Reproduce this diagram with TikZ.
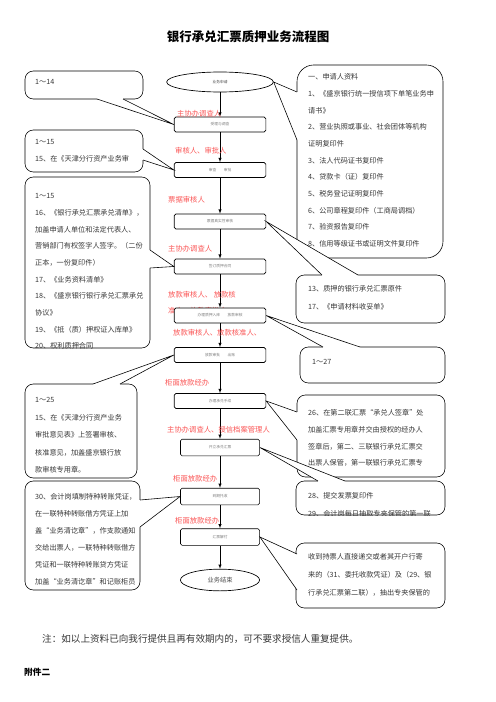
\documentclass[tikz,border=0pt]{standalone}
\usepackage{fontspec}
\setmainfont{Noto Sans CJK SC}
\usetikzlibrary{shapes.geometric}

\definecolor{rolered}{RGB}{250,85,85}
\definecolor{inkgray}{RGB}{55,55,55}

\begin{document}
\begin{tikzpicture}[x=1.2pt,y=-1.2pt]
\tikzstyle{stepbox}=[rectangle,draw,rounded corners=2pt,fill=white,line width=0.8pt,minimum width=110pt,minimum height=18pt,inner sep=0pt,font=\fontsize{4.5}{5}\selectfont,text=gray]
\tikzstyle{stepsmall}=[stepbox,minimum width=95pt,minimum height=20pt]
\tikzstyle{endpoint}=[ellipse,draw,fill=white,line width=0.8pt,inner sep=0pt,text=gray!60!black]
\tikzstyle{role}=[anchor=west,inner sep=0pt,text=rolered,font=\fontsize{8.8}{10}\selectfont]
\tikzstyle{bubble}=[draw,fill=white,rounded corners=10pt,line width=0.7pt]
\tikzstyle{memo}=[anchor=north west,align=left,inner sep=0pt,text=inkgray,font=\fontsize{8.6}{20}\selectfont]
\tikzstyle{flow}=[draw,-latex,line width=0.8pt]

\useasboundingbox (0,0) rectangle (496,702);

\node[font=\bfseries\fontsize{15}{15}\selectfont] (title) at (248,37) {银行承兑汇票质押业务流程图};

% hidden part of a role label, under b5
\node[role] (r5b) at (168,311) {准人、放款审批人};

% main column
\node[endpoint,minimum width=128pt,minimum height=24pt,font=\fontsize{4.5}{5}\selectfont] (start) at (220,82) {业务申请};
\node[stepbox] (b1) at (220,124.5) {受理与调查};
\node[stepbox] (b2) at (220,170) {审查　　审批};
\node[stepbox] (b3) at (220,221.5) {票据真实性审核};
\node[stepbox] (b4) at (220,266.5) {签订质押合同};
\node[stepbox] (b5) at (220,315.5) {办理质押入库　　放款审核};
\node[stepbox] (b6) at (220,355) {放款审批　　出账};
\node[stepbox] (b7) at (220,401) {办理承兑手续};
\node[stepsmall] (b8) at (220,447.5) {开立承兑汇票};
\node[stepsmall] (b9) at (220,496.5) {到期托收};
\node[stepsmall] (b10) at (220,537) {汇票解付};
\node[endpoint,minimum width=95pt,minimum height=26pt,font=\fontsize{7.5}{8}\selectfont] (finish) at (220,580) {业务结束};

\foreach \a/\b in {start/b1,b1/b2,b2/b3,b3/b4,b4/b5,b5/b6,b6/b7,b7/b8,b8/b9,b9/b10,b10/finish}
  \draw[flow] (\a) -- (\b);

% who does each step
\node[role] (r1) at (177,114) {主协办调查人};
\node[role] (r2) at (175,151) {审核人、审批人};
\node[role] (r3) at (168,200) {票据审核人};
\node[role] (r4) at (168,249) {主协办调查人};
\node[role] (r5) at (168,295) {放款审核人、\ 放款核};
\node[role] (r6) at (173,333) {放款审核人、放款核准人、};
\node[role] (r7) at (165,383) {柜面放款经办};
\node[role] (r8) at (167,430) {主协办调查人、授信档案管理人};
\node[role] (r9) at (173,479) {柜面放款经办};
\node[role] (r10) at (175,521) {柜面放款经办};

% left callouts
\draw[bubble] (25,71) rectangle (143,99);
\fill[white] (97,99) -- (b1.west) -- (123,99) -- (123,97) -- (97,97) -- cycle;
\draw[line width=0.7pt] (97,99) -- (b1.west) -- (123,99);
\node[memo] (m1) at (35,79.5) {1～14};

\draw[bubble] (25,130) rectangle (143,172);
\fill[white] (143,149) -- (b2.west) -- (143,160) -- (141,160) -- (141,149) -- cycle;
\draw[line width=0.7pt] (143,149) -- (b2.west) -- (143,160);
\node[memo] (m2) at (35,139.5) {1～15\\15、在《天津分行资产业务审};

\draw[bubble] (25,177) rectangle (150,348);
\fill[white] (150,250) -- (b4.west) -- (150,268) -- (148,268) -- (148,250) -- cycle;
\draw[line width=0.7pt] (150,250) -- (b4.west) -- (150,268);
\begin{scope}
\clip[rounded corners=10pt] (25,177) rectangle (150,348);
\node[memo] (m3) at (35,193.5) {1～15\\16、《银行承兑汇票承兑清单》，\\加盖申请人单位和法定代表人、\\营销部门有权签字人签字。（二份\\正本，一份复印件）\\17、《业务资料清单》\\18、《盛京银行银行承兑汇票承兑\\协议》\\19、《抵（质）押权证入库单》\\20、权利质押合同};
\end{scope}

\draw[bubble] (25,384) rectangle (137,478);
\fill[white] (93,384) -- (b6.west) -- (120,384) -- (120,386) -- (93,386) -- cycle;
\draw[line width=0.7pt] (93,384) -- (b6.west) -- (120,384);
\node[memo,font=\fontsize{8.6}{21}\selectfont] (m4) at (35,397.5) {1～25\\15、在《天津分行资产业务\\审批意见表》上签署审核、\\核准意见，加盖盛京银行放\\款审核专用章。};

\draw[bubble] (25,481) rectangle (140,590);
\fill[white] (140,500) -- (b9.west) -- (140,527) -- (138,527) -- (138,500) -- cycle;
\draw[line width=0.7pt] (140,500) -- (b9.west) -- (140,527);
\begin{scope}
\clip[rounded corners=10pt] (25,481) rectangle (140,590);
\node[memo,font=\fontsize{8.6}{20.4}\selectfont] (m5) at (35,493.5) {30、会计岗填制特种转账凭证，\\在一联特种转账借方凭证上加\\盖“业务清讫章”，作支款通知\\交给出票人，一联特种转账借方\\凭证和一联特种转账贷方凭证\\加盖“业务清讫章”和记账柜员};
\end{scope}

% right callouts
\draw[bubble,rounded corners=20pt] (297,65) rectangle (443,258);
\fill[white] (297,92) -- (start.east) -- (297,140) -- (299,140) -- (299,92) -- cycle;
\draw[line width=0.7pt] (297,92) -- (start.east) -- (297,140);
\node[memo] (n1) at (308,73.5) {一、申请人资料\\1、《盛京银行统一授信项下单笔业务申\\请书》\\2、营业执照或事业、社会团体等机构\\证明复印件\\3、法人代码证书复印件\\4、贷款卡（证）复印件\\5、税务登记证明复印件\\6、公司章程复印件（工商局调档）\\7、验资报告复印件\\8、信用等级证书或证明文件复印件};

\draw[bubble] (296,275) rectangle (445,323);
\fill[white] (322,275) -- (b3.east) -- (358,275) -- (358,277) -- (322,277) -- cycle;
\draw[line width=0.7pt] (322,275) -- (b3.east) -- (358,275);
\node[memo,font=\fontsize{8.6}{21.6}\selectfont] (n2) at (308,285.5) {13、质押的银行承兑汇票原件\\17、《申请材料收妥单》};

\draw[bubble] (300,347) rectangle (445,383);
\fill[white] (323,347) -- (b5.east) -- (360,347) -- (360,349) -- (323,349) -- cycle;
\draw[line width=0.7pt] (323,347) -- (b5.east) -- (360,347);
\node[memo] (n3) at (312,359.5) {1～27};

\draw[bubble] (297,395) rectangle (445,477);
\fill[white] (297,412) -- (b7.east) -- (297,440) -- (299,440) -- (299,412) -- cycle;
\draw[line width=0.7pt] (297,412) -- (b7.east) -- (297,440);
\node[memo] (n4) at (308,409.5) {26、在第二联汇票“承兑人签章”处\\加盖汇票专用章并交由授权的经办人\\签章后，第二、三联银行承兑汇票交\\出票人保管，第一联银行承兑汇票专};

\draw[bubble] (296,481) rectangle (445,515);
\fill[white] (318,481) -- (b8.east) -- (345,481) -- (345,483) -- (318,483) -- cycle;
\draw[line width=0.7pt] (318,481) -- (b8.east) -- (345,481);
\begin{scope}
\clip[rounded corners=10pt] (296,481) rectangle (445,515);
\node[memo,font=\fontsize{8.6}{21.8}\selectfont] (n5) at (308,492.5) {28、提交发票复印件\\29、会计岗每日抽取专夹保管的第一联};
\end{scope}

\draw[bubble] (296,543) rectangle (445,608);
\fill[white] (297,554) -- (b10.east) -- (297,590) -- (299,590) -- (299,554) -- cycle;
\draw[line width=0.7pt] (297,554) -- (b10.east) -- (297,590);
\node[memo,font=\fontsize{8.6}{21.6}\selectfont] (n6) at (308,553.5) {收到持票人直接递交或者其开户行寄\\来的（31、委托收款凭证）及（29、银\\行承兑汇票第二联），抽出专夹保管的};

% footer
\node[anchor=west,inner sep=0pt,text=inkgray,font=\fontsize{11.5}{12}\selectfont] (note) at (42,639) {注：如以上资料已向我行提供且再有效期内的，可不要求授信人重复提供。};
\node[anchor=west,inner sep=0pt,font=\bfseries\fontsize{10.4}{11}\selectfont] (annex) at (24,672) {附件二};

\end{tikzpicture}
\end{document}
